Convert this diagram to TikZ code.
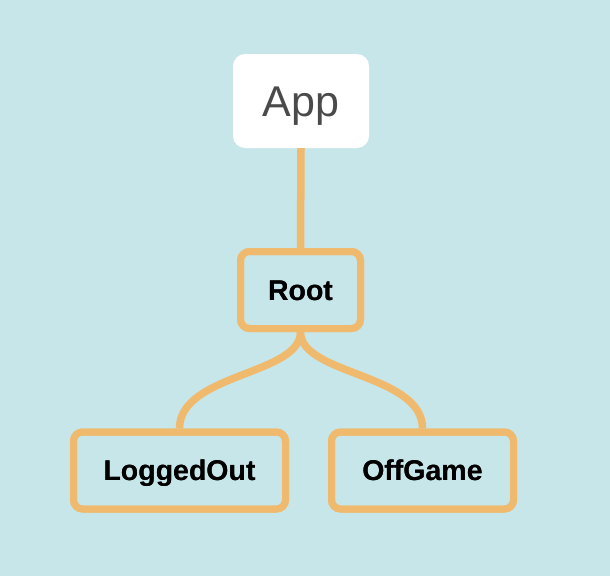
\documentclass[tikz,border=0pt]{standalone}
\usepackage{fontspec}
\setmainfont{Liberation Sans}
\definecolor{bgblue}{HTML}{C7E6E9}
\definecolor{orng}{HTML}{F0BA6E}
\definecolor{apptext}{HTML}{4A4A4A}
\tikzset{
  statebox/.style={draw=orng, line width=7pt, rounded corners=9pt, minimum height=77pt,
    font=\fontsize{28.5pt}{30pt}\selectfont\bfseries, text=black, text height=20.4pt, text depth=0pt, inner sep=0pt},
  appbox/.style={fill=white, rounded corners=12pt, minimum width=136pt, minimum height=94pt,
    font=\fontsize{43pt}{45pt}\selectfont, text=apptext, text height=30pt, text depth=0pt, inner sep=0pt},
  link/.style={draw=orng, line width=7.5pt}
}
\begin{document}
\begin{tikzpicture}[x=1pt,y=-1pt]
\useasboundingbox (0,0) rectangle (610,576);
\fill[bgblue] (0,0) rectangle (610,576);
\node[appbox] (app) at (301,101) {App};
\node[statebox, minimum width=120pt] (root) at (300.5,290) {Root};
\node[statebox, minimum width=212pt] (lo) at (179.5,470.5) {LoggedOut};
\node[statebox, minimum width=182pt] (og) at (422.5,470.5) {OffGame};
\draw[link] (app.south) -- (root.north);
\draw[link] (root.south) .. controls ++(0,43) and ([yshift=55pt]lo.north) .. (lo.north);
\draw[link] (root.south) .. controls ++(0,43) and ([yshift=55pt]og.north) .. (og.north);
\node[statebox, minimum width=120pt] at (root) {Root};
\node[statebox, minimum width=212pt] at (lo) {LoggedOut};
\node[statebox, minimum width=182pt] at (og) {OffGame};
\end{tikzpicture}
\end{document}
